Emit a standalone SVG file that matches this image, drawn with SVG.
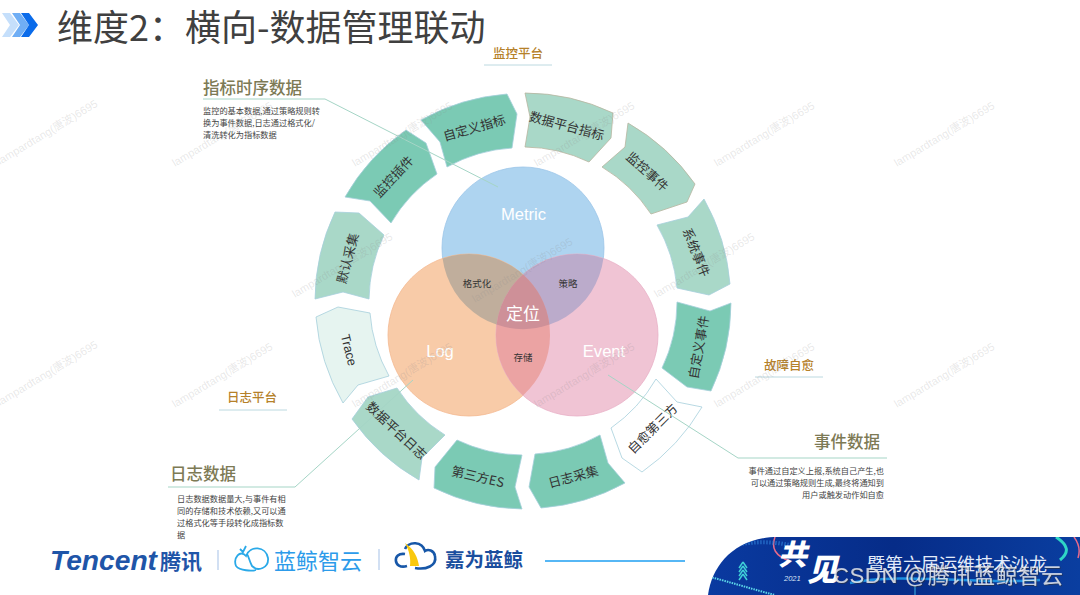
<svg xmlns="http://www.w3.org/2000/svg" width="1080" height="595" viewBox="0 0 1080 595">
<style>
text{font-family:"Noto Sans CJK SC","Liberation Sans",sans-serif}
.lat{font-family:"Liberation Sans","Noto Sans CJK SC",sans-serif}
.seg{stroke:#A6CFDC;stroke-width:.8}
.dark{fill:#7BCAB4}
.light{fill:#A9D8C8}
.warm{stroke:#B8B5A0}
.sl{font-size:12.8px;fill:#333;text-anchor:middle;dominant-baseline:central}
.wl{fill:#fff;text-anchor:middle;dominant-baseline:central}
.ol{font-size:9.5px;fill:#333;text-anchor:middle;dominant-baseline:central}
.cat{font-size:12.5px;font-weight:500;fill:#B5812A;text-anchor:middle;dominant-baseline:central}
.rule{stroke:#BCD9E0;stroke-width:1;fill:none}
.lead{stroke:#A5D5C6;stroke-width:1;fill:none}
.h{font-size:16.5px;font-weight:500;fill:#7D7A55;dominant-baseline:central}
.d{font-size:8.2px;fill:#444;dominant-baseline:central}
.wm{font-size:11px;fill:#8A8A8A;fill-opacity:.2;font-family:"Liberation Sans","Noto Sans CJK SC",sans-serif}
</style>
<defs>
<linearGradient id="bn" x1="0" y1="0" x2="1" y2="0"><stop offset="0" stop-color="#0A3AA0"/><stop offset=".5" stop-color="#062C88"/><stop offset="1" stop-color="#0A3EA0"/></linearGradient>
<clipPath id="bc"><path d="M708,595C712,565 735,537 778,537L1080,537L1080,595Z"/></clipPath>
<filter id="sh" x="-5%" y="-20%" width="110%" height="140%"><feDropShadow dx=".8" dy=".8" stdDeviation=".3" flood-color="#333"/></filter>
</defs>
<rect width="1080" height="595" fill="#fff"/>

<g id="header">
<polygon points="2,13 10,13 19,25 10,37 2,37 10,25" fill="#C5DFFB"/>
<polygon points="12,13 20,13 29,25 20,37 12,37 20,25" fill="#6FAEF5"/>
<polygon points="21,13 29,13 38,25 29,37 21,37 29,25" fill="#0A6BEA"/>
<text x="57" y="41" font-size="36" fill="#404040">维度2：横向-数据管理联动</text>
</g>

<g id="ring">
<g id="seg-custom-metric"><path class="seg dark" d="M421,120A207,207 0 0 1 507,94L517,114L512,148A153,153 0 0 0 447,167L440,142Z"/><text class="sl" transform="rotate(-16 474 127)" x="474" y="127">自定义指标</text></g>
<g id="seg-data-metric"><path class="seg light warm" d="M525,93A207,207 0 0 1 613,113L611,138L589,162A153,153 0 0 0 525,147L530,117Z"/><text class="sl" transform="rotate(15 567 125)" x="567" y="125">数据平台指标</text></g>
<g id="seg-monitor-event"><path class="seg light warm" d="M628,123A207,207 0 0 1 695,184L687,202L651,214A153,153 0 0 0 602,167L625,147Z"/><text class="sl" transform="rotate(42 648 171)" x="648" y="171">监控事件</text></g>
<g id="seg-system-event"><path class="seg light" d="M704,199A207,207 0 0 1 730,284L709,295L677,288A153,153 0 0 0 657,225L688,217Z"/><text class="sl" transform="rotate(68 697 252)" x="697" y="252">系统事件</text></g>
<g id="seg-custom-event"><path class="seg dark" d="M731,303A207,207 0 0 1 711,391L687,387L662,368A153,153 0 0 0 677,302L710,311Z"/><text class="sl" transform="rotate(-80 698 347)" x="698" y="347">自定义事件</text></g>
<g id="seg-heal"><path class="seg" fill="#fff" d="M702,407A207,207 0 0 1 642,472L622,458L611,428A153,153 0 0 0 656,379L677,402Z"/><text class="sl" transform="rotate(-45 652 428)" x="652" y="428">自愈第三方</text></g>
<g id="seg-log-collect"><path class="seg dark" d="M625,483A207,207 0 0 1 541,508L529,487L535,454A153,153 0 0 0 600,435L608,463Z"/><text class="sl" transform="rotate(-15 573 476)" x="573" y="476">日志采集</text></g>
<g id="seg-es"><path class="seg dark" d="M522,509A207,207 0 0 1 434,488L435,467L457,440A153,153 0 0 0 522,455L515,487Z"/><text class="sl" transform="rotate(13 478 476)" x="478" y="476">第三方ES</text></g>
<g id="seg-data-log"><path class="seg light" d="M419,480A207,207 0 0 1 352,419L368,397L397,388A153,153 0 0 0 445,435L422,458Z"/><text class="sl" transform="rotate(43 397 430)" x="397" y="430">数据平台日志</text></g>
<g id="seg-trace"><path class="seg" fill="#E6F4F0" d="M343,403A207,207 0 0 1 316,317L338,307L370,313A153,153 0 0 0 389,376L358,385Z"/><text class="sl lat" transform="rotate(76 349 350)" x="349" y="350">Trace</text></g>
<g id="seg-default"><path class="seg light" d="M315,299A207,207 0 0 1 335,212L359,213L384,235A153,153 0 0 0 369,299L343,292Z"/><text class="sl" transform="rotate(-75 347 258)" x="347" y="258">默认采集</text></g>
<g id="seg-plugin"><path class="seg dark" d="M345,197A207,207 0 0 1 406,130L426,143L437,174A153,153 0 0 0 391,223L370,201Z"/><text class="sl" transform="rotate(-47 393 176)" x="393" y="176">监控插件</text></g>
</g>

<g id="venn">
<g id="metric"><circle cx="523" cy="248" r="81" fill="#AED4F0" stroke="#9CC5E8" stroke-width=".8"/></g>
<g id="log"><circle cx="469" cy="335" r="81" fill="#F8CBA8" stroke="#F4B990" stroke-width=".8"/></g>
<g id="event"><circle cx="577" cy="335" r="81" fill="#F0C4D4" stroke="#E8B0C6" stroke-width=".8"/></g>
<g id="format"><path d="M442.6,258.4A81,81 0 0 1 549.4,324.6A81,81 0 0 1 442.6,258.4Z" fill="#C0AE9C"/></g>
<g id="strategy"><path d="M496.6,324.6A81,81 0 0 1 603.4,258.4A81,81 0 0 1 496.6,324.6Z" fill="#BBABCB"/></g>
<g id="storage"><path d="M523,274.6A81,81 0 0 1 523,395.4A81,81 0 0 1 523,274.6Z" fill="#EBA3A3"/></g>
<g id="locate"><path d="M523,274.6A81,81 0 0 1 549.4,324.6A81,81 0 0 1 496.6,324.6A81,81 0 0 1 523,274.6Z" fill="#CE9098"/></g>
<text class="wl lat" x="523.5" y="214" font-size="16.6">Metric</text>
<text class="wl lat" x="440" y="351" font-size="16.6">Log</text>
<text class="wl lat" x="604" y="351" font-size="16.6">Event</text>
<text class="wl" x="523" y="312" font-size="17">定位</text>
<text class="ol" x="477" y="283">格式化</text>
<text class="ol" x="568" y="283">策略</text>
<text class="ol" x="523" y="357">存储</text>
</g>

<g id="connectors">
<polyline class="lead" points="203,99 325,99 498,187"/>
<polyline class="lead" points="168,487 295,487 413,380"/>
<polyline class="lead" points="887,458 738,458 608,375"/>
</g>

<g id="labels">
<text class="cat" x="518" y="52">监控平台</text><line class="rule" x1="484" y1="65" x2="552" y2="65"/>
<text class="cat" x="789" y="364">故障自愈</text><line class="rule" x1="755" y1="377" x2="823" y2="377"/>
<text class="cat" x="252" y="396">日志平台</text><line class="rule" x1="219" y1="410" x2="287" y2="410"/>
<g id="note-metric"><text class="h" x="203" y="87">指标时序数据</text>
<text class="d" x="203" y="110">监控的基本数据,通过策略规则转</text>
<text class="d" x="203" y="122">换为事件数据,日志通过格式化/</text>
<text class="d" x="203" y="133.500">清洗转化为指标数据</text></g>
<g id="note-log"><text class="h" x="170" y="473">日志数据</text>
<text class="d" x="177" y="498">日志数据数据量大,与事件有相</text>
<text class="d" x="177" y="510">同的存储和技术依赖,又可以通</text>
<text class="d" x="177" y="522">过格式化等手段转化成指标数</text>
<text class="d" x="177" y="534">据</text></g>
<g id="note-event"><text class="h" x="880" y="441" text-anchor="end">事件数据</text>
<text class="d" x="884" y="470" text-anchor="end">事件通过自定义上报,系统自己产生,也</text>
<text class="d" x="884" y="482" text-anchor="end">可以通过策略规则生成,最终将通知到</text>
<text class="d" x="884" y="494" text-anchor="end">用户或触发动作如自愈</text></g>
</g>

<g id="footer">
<text class="lat" x="50" y="570" font-size="27" font-weight="700" font-style="italic" fill="#1F55A8" textLength="107" lengthAdjust="spacingAndGlyphs">Tencent</text>
<text x="160" y="569" font-size="21" font-weight="700" fill="#1F55A8">腾讯</text>
<line x1="218" y1="550" x2="218" y2="570" stroke="#B4CCEB" stroke-width="1.2"/>
<path d="M236,566C233,558 240,549 246,556C250,545 266,546 268,558C269,568 258,572 252,566C248,558 248,552 246,556M236,566C240,571 252,571 256,570M240,549L243,552L246,546" fill="none" stroke="#2AA9E8" stroke-width="1.8"/>
<text x="274" y="569" font-size="22" fill="#2C9BEA">蓝鲸智云</text>
<line x1="379" y1="549" x2="379" y2="570" stroke="#B4CCEB" stroke-width="1.2"/>
<path d="M407,566C393,570 392,552 405,554M415,568C426,570 437,566 435,556C434,550 428,549 425,551C422,541 409,541 405,549" fill="none" stroke="#1757A8" stroke-width="2.6"/>
<path d="M405,543C414,549 418,558 419,566L410,566C411,558 409,550 405,543Z" fill="#F9C80E"/>
<text x="445" y="567" font-size="19.500" font-weight="700" fill="#1A4E9E">嘉为蓝鲸</text>
<line x1="545" y1="561" x2="685" y2="561" stroke="#1E9FF2" stroke-width="1.500"/>
<g id="banner">
<path d="M708,595C712,565 735,537 778,537L1080,537L1080,595Z" fill="url(#bn)"/>
<g clip-path="url(#bc)" fill="none">
<path d="M775,537C771,548 775,556 790,561" stroke="#E86A8A" stroke-width="1.500"/>
<path d="M1056,537C1068,545 1070,552 1060,560" stroke="#2FD6C6" stroke-width="3"/>
<path d="M1074,537C1080,545 1080,552 1078,558" stroke="#E86A8A" stroke-width="1.500"/>
<path d="M710,577C730,582 755,590 775,595" stroke="#5CD6E8" stroke-width="2" stroke-dasharray="1.500 1"/>
<path d="M725,548C745,541 770,541 790,545" stroke="#2F7FD8" stroke-width="4" stroke-dasharray="1 2"/>
<path d="M850,583C900,572 980,585 1040,580" stroke="#1E8FE0" stroke-width="2.500"/>
<line x1="915" y1="585" x2="915" y2="595" stroke="#3FB8E8"/>
<path d="M743,562L739,568M743,562L747,568M743,566L739,572M743,566L747,572M743,570L739,576M743,570L747,576M743,574L739,580M743,574L747,580" stroke="#3FD0D8" stroke-width="1.500"/>
</g>
<text x="778" y="565" font-size="29" font-weight="900" font-style="italic" fill="#fff">共</text>
<text x="807" y="581" font-size="31" font-weight="900" font-style="italic" fill="#fff">见</text>
<text class="lat" x="784" y="581" font-size="7.500" font-style="italic" fill="#D8E4F5">2021</text>
<text x="867" y="571" font-size="18" fill="#E3ECFA">暨第六届运维技术沙龙</text>
</g>
</g>

<g id="watermarks">
<text class="wm" x="0" y="165" transform="rotate(-31 0 165)">lampardtang(唐波)6695</text>
<text class="wm" x="175" y="167" transform="rotate(-31 175 167)">lampardtang(唐波)6695</text>
<text class="wm" x="355" y="167" transform="rotate(-31 355 167)">lampardtang(唐波)6695</text>
<text class="wm" x="537" y="167" transform="rotate(-31 537 167)">lampardtang(唐波)6695</text>
<text class="wm" x="717" y="167" transform="rotate(-31 717 167)">lampardtang(唐波)6695</text>
<text class="wm" x="897" y="167" transform="rotate(-31 897 167)">lampardtang(唐波)6695</text>
<text class="wm" x="295" y="298" transform="rotate(-31 295 298)">lampardtang(唐波)6695</text>
<text class="wm" x="475" y="303" transform="rotate(-31 475 303)">lampardtang(唐波)6695</text>
<text class="wm" x="657" y="298" transform="rotate(-31 657 298)">lampardtang(唐波)6695</text>
<text class="wm" x="0" y="406" transform="rotate(-31 0 406)">lampardtang(唐波)6695</text>
<text class="wm" x="175" y="408" transform="rotate(-31 175 408)">lampardtang(唐波)6695</text>
<text class="wm" x="355" y="408" transform="rotate(-31 355 408)">lampardtang(唐波)6695</text>
<text class="wm" x="537" y="408" transform="rotate(-31 537 408)">lampardtang(唐波)6695</text>
<text class="wm" x="717" y="408" transform="rotate(-31 717 408)">lampardtang(唐波)6695</text>
<text class="wm" x="897" y="408" transform="rotate(-31 897 408)">lampardtang(唐波)6695</text>
</g>
<text id="csdn" x="833" y="583" font-size="22" fill="#fff" fill-opacity=".7" filter="url(#sh)" class="lat" textLength="230">CSDN @腾讯蓝鲸智云</text>
</svg>
